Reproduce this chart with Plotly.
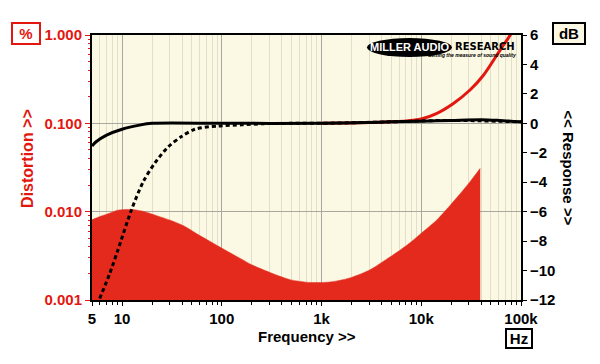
import plotly.graph_objects as go

# ---------------- data ----------------
# Distortion (filled, left axis, %)
thd_freq = [5, 6, 7.5, 9.1, 12.4, 16.9, 23, 31.4, 42.7, 58, 79, 107, 158, 200, 304, 483, 766,
            1220, 1930, 3070, 4500, 6000, 8000, 10000, 14400, 20000, 30000, 39000]
thd_pct = [0.0081, 0.0088, 0.0096, 0.0104, 0.0106, 0.0100, 0.0089, 0.0079, 0.0068, 0.0055,
           0.0045, 0.0037, 0.0029, 0.0025, 0.00205, 0.0017, 0.00158, 0.0016, 0.00178,
           0.0022, 0.0029, 0.0036, 0.0046, 0.0057, 0.0081, 0.0122, 0.021, 0.031]

# Distortion at high level (red line, left axis, %)
thd2_freq = [1000, 2000, 3000, 5000, 7000, 10000, 14000, 21000, 31000, 42000, 62000, 78000, 90000]
thd2_pct = [0.100, 0.101, 0.102, 0.104, 0.106, 0.112, 0.128, 0.168, 0.24, 0.35, 0.68, 1.0, 1.35]

# Frequency response (solid, right axis, dB)
resp_freq = [5, 5.5, 7, 10, 15, 20, 100, 1000, 3000, 5000, 10000, 20000, 40000, 60000, 100000]
resp_db = [-1.54, -1.25, -0.8, -0.4, -0.12, 0.0, 0.0, 0.0, 0.05, 0.1, 0.15, 0.2, 0.25, 0.2, 0.1]

# Frequency response, filtered (dotted, right axis, dB)
resp2_freq = [5.97, 7.53, 9.1, 12.4, 16.3, 21.3, 29, 39.5, 53.7, 92, 158, 250, 500, 1000,
              5000, 20000, 100000]
resp2_db = [-11.9, -10.2, -8.6, -5.9, -3.97, -2.7, -1.6, -0.9, -0.4, -0.18, -0.1, -0.03, 0.0,
            0.0, 0.1, 0.2, 0.1]

x_tickvals = [5, 10, 100, 1000, 10000, 100000]
x_ticktext = ["5", "10", "100", "1k", "10k", "100k"]
y_tickvals = [0.001, 0.01, 0.1, 1.0]
y_ticktext = ["0.001", "0.010", "0.100", "1.000"]
db_tickvals = list(range(-12, 7, 2))

x_minor = [m * d for d in (1, 10, 100, 1000, 10000) for m in range(2, 10) if 5 < m * d < 100000]
y_minor = [m * d for d in (0.001, 0.01, 0.1) for m in range(2, 10)]

# ---------------- styles ----------------
FONT = "Liberation Sans, Arial, sans-serif"
RED = "#E3170F"
FILL = "#E32A1C"
CREAM = "#FBF8E4"

fig = go.Figure()

fig.add_trace(go.Scatter(x=thd_freq, y=thd_pct, mode="lines",
                         line=dict(color=FILL, width=0.5, shape="spline", smoothing=0.7),
                         fill="tozeroy", fillcolor=FILL, yaxis="y", showlegend=False))
fig.add_trace(go.Scatter(x=thd2_freq, y=thd2_pct, mode="lines",
                         line=dict(color=RED, width=3, shape="spline", smoothing=0.8),
                         yaxis="y", showlegend=False))
fig.add_trace(go.Scatter(x=resp2_freq, y=resp2_db, mode="lines",
                         line=dict(color="black", width=3, dash="4px,3px", shape="spline",
                                   smoothing=0.8),
                         yaxis="y2", showlegend=False))
fig.add_trace(go.Scatter(x=resp_freq, y=resp_db, mode="lines",
                         line=dict(color="black", width=3, shape="spline", smoothing=0.8),
                         yaxis="y2", showlegend=False))

bold = dict(family=FONT, size=15, color="black", weight="bold")

fig.update_layout(
    width=600, height=364,
    margin=dict(l=92, r=79, t=35, b=64),
    paper_bgcolor="white", plot_bgcolor=CREAM,
    font=dict(family=FONT),
    xaxis=dict(type="log", range=[0.69897, 5], tickvals=x_tickvals, ticktext=x_ticktext,
               tickfont=bold, ticks="outside", ticklen=4, tickcolor="black",
               showgrid=True, gridcolor="#A9A8A0", gridwidth=1,
               showline=True, linecolor="black", linewidth=2, mirror=True,
               minor=dict(tickvals=x_minor, ticks="outside", ticklen=3, tickcolor="black",
                          showgrid=True, gridcolor="#E3DECA", gridwidth=1),
               zeroline=False),
    yaxis=dict(type="log", range=[-3, 0], tickvals=y_tickvals, ticktext=y_ticktext,
               tickfont=dict(family=FONT, size=15, color=RED, weight="bold"),
               ticks="outside", ticklen=5, tickcolor=RED,
               showgrid=True, gridcolor="#A9A8A0", gridwidth=1,
               showline=True, linecolor="black", linewidth=2, mirror=True,
               minor=dict(tickvals=y_minor, ticks="outside", ticklen=2, tickcolor=RED,
                          showgrid=False),
               zeroline=False),
    yaxis2=dict(overlaying="y", side="right", range=[-12, 6], tickvals=db_tickvals,
                tickfont=bold, ticks="outside", ticklen=5, tickcolor="black",
                showgrid=False, zeroline=False, showline=False),
)

def ann(text, x, y, **kw):
    fig.add_annotation(text=text, xref="paper", yref="paper", x=x, y=y, showarrow=False,
                       xanchor=kw.pop("xanchor", "center"), yanchor=kw.pop("yanchor", "middle"),
                       **kw)

# Axis titles
ann("Distortion >>", -0.150, 0.535, textangle=-90,
    font=dict(family=FONT, size=16, color=RED, weight="bold"))
ann("<< Response >>", 1.11, 0.50, textangle=90, font=bold)
ann("Frequency >>", 0.5, -0.138, font=bold)

# Unit boxes
ann("%", -0.1527, 1.004, font=dict(family=FONT, size=15, color=RED, weight="bold"),
    bordercolor=RED, borderwidth=2, bgcolor="white", borderpad=1, width=24)
ann("dB", 1.113, 1.004, font=bold, bordercolor="black", borderwidth=2, bgcolor=CREAM,
    borderpad=1, width=28)
ann("Hz", 0.9953, -0.1453, font=bold, bordercolor="black", borderwidth=2, bgcolor="white",
    borderpad=0, width=24)

# Logo
fig.add_shape(type="circle", xref="paper", yref="paper", x0=0.641, x1=0.839, y0=0.917, y1=0.989,
              fillcolor="black", line=dict(color="black", width=0))
ann("MILLER AUDIO", 0.741, 0.955, font=dict(family=FONT, size=11, color="white", weight="bold"))
ann("RESEARCH", 0.8415, 0.958, xanchor="left",
    font=dict(family="DejaVu Sans, sans-serif", size=10, color="black", weight="bold"))
ann("<i>Setting the measure of sound quality</i>", 0.993, 0.926, xanchor="right",
    font=dict(family=FONT, size=5, color="black", weight="bold"))

fig.write_html("out.html", config={"displayModeBar": False},
               post_script="document.body.style.margin='0';")
